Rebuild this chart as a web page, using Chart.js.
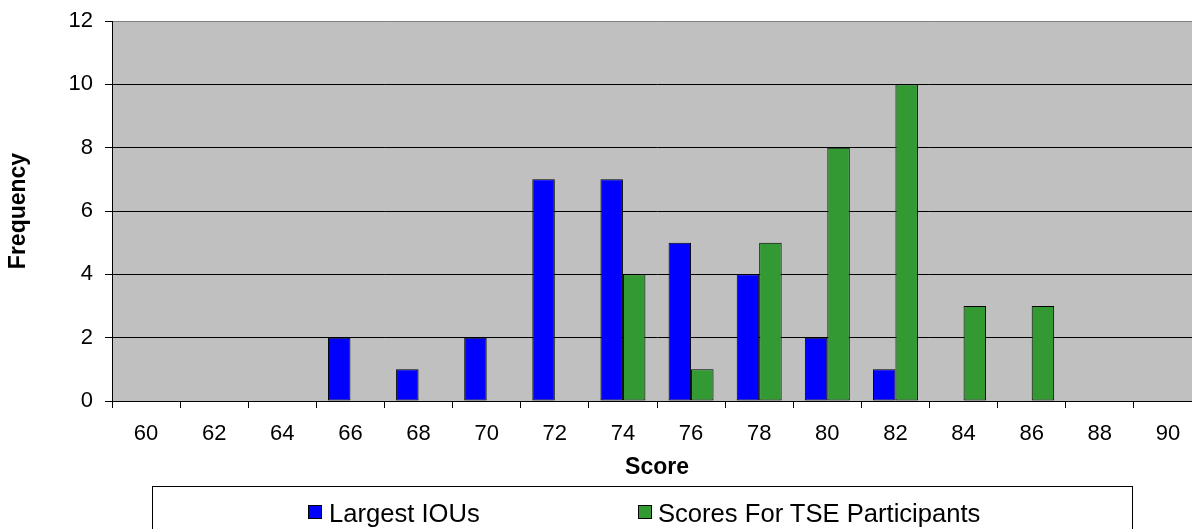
<!DOCTYPE html>
<html>
<head>
<meta charset="utf-8">
<script src="https://cdn.jsdelivr.net/npm/chart.js@4/dist/chart.umd.min.js"></script>
<style>
  html, body { margin: 0; padding: 0; overflow: hidden; background: #fff; }
  #wrap { position: relative; width: 1192px; height: 529px; overflow: hidden; }
  #scoreChart { position: absolute; left: 0; top: 0; }
  #legendBox {
    position: absolute; left: 152px; top: 486px; width: 981px; height: 60px;
    border: 1px solid #000; box-sizing: border-box;
    font-family: Arial, "Liberation Sans", sans-serif; font-size: 25.6px; color: #000;
  }
  .item { position: absolute; top: 13px; line-height: 26px; white-space: nowrap; }
  .swatch { position: absolute; width: 12px; height: 12px; border: 1px solid #000; top: 18px; }
</style>
</head>
<body>
<div id="wrap">
  <canvas id="scoreChart" width="1202" height="529"></canvas>
  <div id="legendBox">
    <span class="swatch" style="left:155px;background:#0000ff"></span>
    <span class="item" style="left:176px">Largest IOUs</span>
    <span class="swatch" style="left:485px;background:#339933"></span>
    <span class="item" style="left:505px">Scores For TSE Participants</span>
  </div>
</div>
<script>
const scores = ['60', '62', '64', '66', '68', '70', '72', '74', '76', '78', '80', '82', '84', '86', '88', '90'];
const largestIOUs = [0, 0, 0, 2, 1, 2, 7, 7, 5, 4, 2, 1, 0, 0, 0, 0];
const tseScores = [0, 0, 0, 0, 0, 0, 0, 4, 1, 5, 8, 10, 3, 3, 0, 0];
const yTicks = [0, 2, 4, 6, 8, 10, 12];

const FONT = 'Arial, "Liberation Sans", sans-serif';

const plotBackground = {
  id: 'plotBackground',
  beforeDraw(chart) {
    const a = chart.chartArea;
    const ctx = chart.ctx;
    ctx.save();
    ctx.fillStyle = '#c0c0c0';
    ctx.fillRect(a.left, a.top, a.right - a.left, a.bottom - a.top);
    ctx.restore();
  }
};

const ctx = document.getElementById('scoreChart').getContext('2d');
const scoreChart = new Chart(ctx, {
  type: 'bar',
  data: {
    labels: scores,
    datasets: [
      {
        label: 'Largest IOUs',
        data: largestIOUs,
        backgroundColor: '#0000ff',
        borderColor: '#000',
        borderWidth: 1,
        borderSkipped: false
      },
      {
        label: 'Scores For TSE Participants',
        data: tseScores,
        backgroundColor: '#339933',
        borderColor: '#000',
        borderWidth: 1,
        borderSkipped: false
      }
    ]
  },
  options: {
    responsive: false,
    animation: false,
    devicePixelRatio: 1,
    categoryPercentage: 0.66,
    barPercentage: 1,
    layout: { padding: { left: 5, top: 21, right: 0, bottom: 0 } },
    plugins: {
      legend: { display: false },
      tooltip: { enabled: false }
    },
    scales: {
      x: {
        grid: { display: true, drawOnChartArea: false, offset: true, tickLength: 7, color: '#000' },
        border: { display: true, color: '#000' },
        ticks: { color: '#000', font: { family: FONT, size: 22 }, padding: 13, maxRotation: 0, autoSkip: false },
        title: { display: true, text: 'Score', color: '#000', font: { family: FONT, size: 23, weight: 'bold' }, padding: { top: 0, bottom: 48 } },
        afterFit(scale) { scale.height = 128; scale.paddingLeft = 0; scale.paddingRight = 0; }
      },
      y: {
        min: 0,
        max: 12,
        afterBuildTicks(scale) { scale.ticks = yTicks.map(v => ({ value: v })); },
        grid: {
          color: c => (c.tick && c.tick.value === 12 ? '#808080' : '#000'),
          tickColor: '#000',
          tickLength: 7
        },
        border: { display: true, color: '#000' },
        ticks: { color: '#000', font: { family: FONT, size: 22 }, padding: 12 },
        title: { display: true, text: 'Frequency', color: '#000', font: { family: FONT, size: 23, weight: 'bold' }, padding: { top: 0, bottom: 0 } },
        afterFit(scale) { scale.width = 107; scale.paddingTop = 0; scale.paddingBottom = 0; }
      }
    }
  },
  plugins: [plotBackground]
});
</script>
</body>
</html>
